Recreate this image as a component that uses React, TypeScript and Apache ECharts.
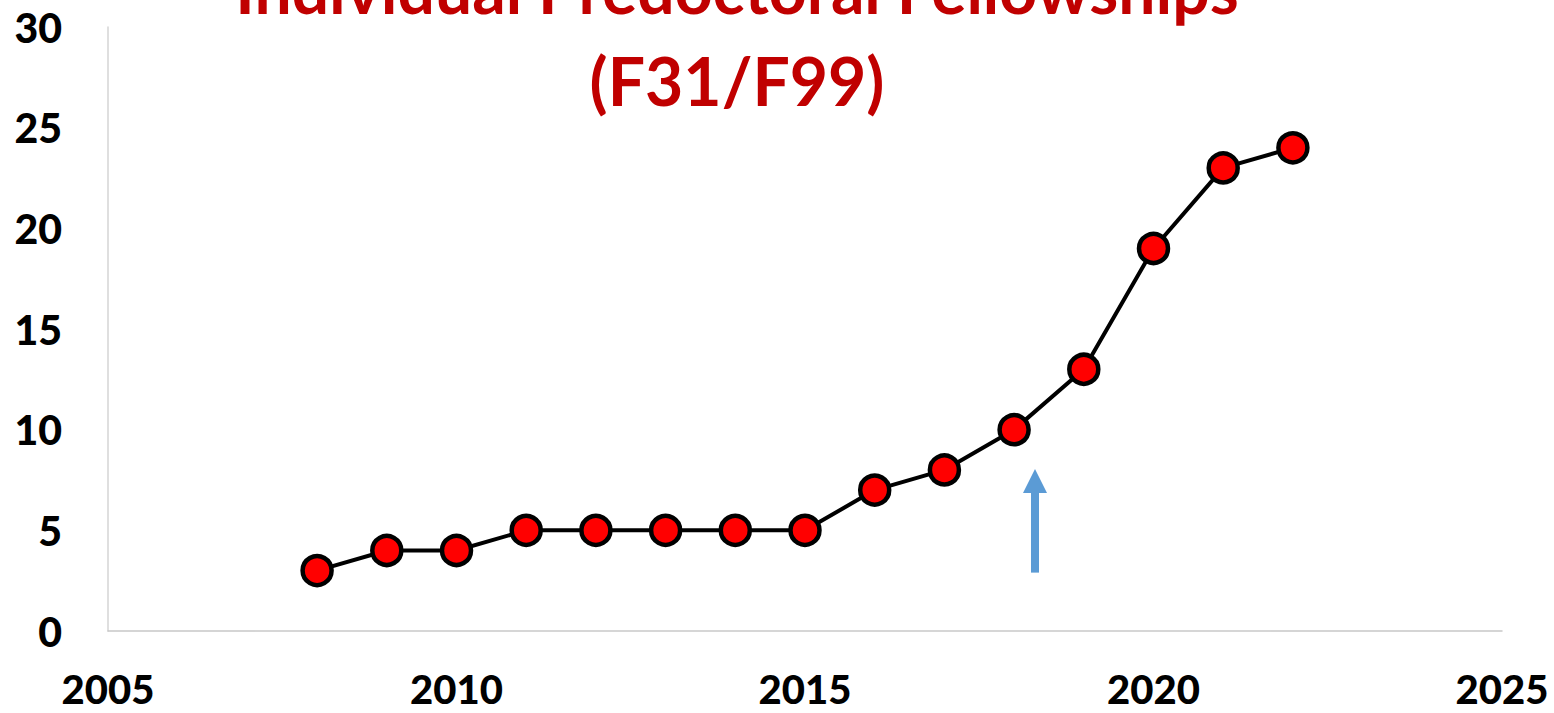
import React, { useEffect, useRef } from "react";
import * as echarts from "echarts";

const years = [2008, 2009, 2010, 2011, 2012, 2013, 2014, 2015, 2016, 2017, 2018, 2019, 2020, 2021, 2022];
const counts = [3, 4, 4, 5, 5, 5, 5, 5, 7, 8, 10, 13, 19, 23, 24];
const titleLines = ["Individual Predoctoral Fellowships", "(F31/F99)"];
const arrowX = 2018.3;
const arrowFrom = 2.9;
const arrowTo = 7.45;

const FONT = "Lato, 'Open Sans', sans-serif";

export default function App() {
  const ref = useRef<HTMLDivElement>(null);
  useEffect(() => {
    if (!ref.current) return;
    const chart = echarts.init(ref.current, undefined, { renderer: "svg" });
    chart.setOption({
      animation: false,
      grid: { left: 108, right: 52, top: 27, bottom: 82, containLabel: false },
      xAxis: {
        type: "value",
        min: 2005,
        max: 2025,
        interval: 5,
        axisLine: { show: true, lineStyle: { color: "#C8C8C8", width: 1.5 } },
        axisTick: { show: false },
        splitLine: { show: false },
        axisLabel: {
          color: "#000",
          fontSize: 40,
          fontWeight: 900,
          fontFamily: FONT,
          lineHeight: 32,
          margin: 42,
          formatter: (v: number) => String(v),
        },
      },
      yAxis: {
        type: "value",
        min: 0,
        max: 30,
        interval: 5,
        axisLine: { show: true, lineStyle: { color: "#D4D4D4", width: 1.5 } },
        axisTick: { show: false },
        splitLine: { show: false },
        axisLabel: { color: "#000", fontSize: 41, fontWeight: 900, fontFamily: FONT, lineHeight: 34, margin: 46 },
      },
      graphic: [
        {
          type: "text",
          x: 737,
          y: -58,
          style: {
            text: titleLines.join("\n"),
            fill: "#C00000",
            font: `bold 66px ${FONT}`,
            textAlign: "center",
            textVerticalAlign: "top",
            lineHeight: 92,
          },
          z: 10,
        },
      ],
      series: [
        {
          type: "line",
          data: years.map((y, i) => [y, counts[i]]),
          lineStyle: { color: "#000", width: 4 },
          symbol: "circle",
          symbolSize: 29,
          itemStyle: { color: "#FF0000", borderColor: "#000", borderWidth: 4.5 },
          z: 3,
          markLine: {
            silent: true,
            symbol: ["none", "triangle"],
            symbolSize: [24, 24],
            label: { show: false },
            lineStyle: { color: "#5B9BD5", width: 8, type: "solid" },
            data: [[{ coord: [arrowX, arrowFrom] }, { coord: [arrowX, arrowTo] }]],
          },
        },
      ],
    });
    return () => chart.dispose();
  }, []);
  return (
    <div
      ref={ref}
      style={{ position: "fixed", left: 0, top: 0, width: 1554, height: 713, background: "#fff" }}
    />
  );
}
